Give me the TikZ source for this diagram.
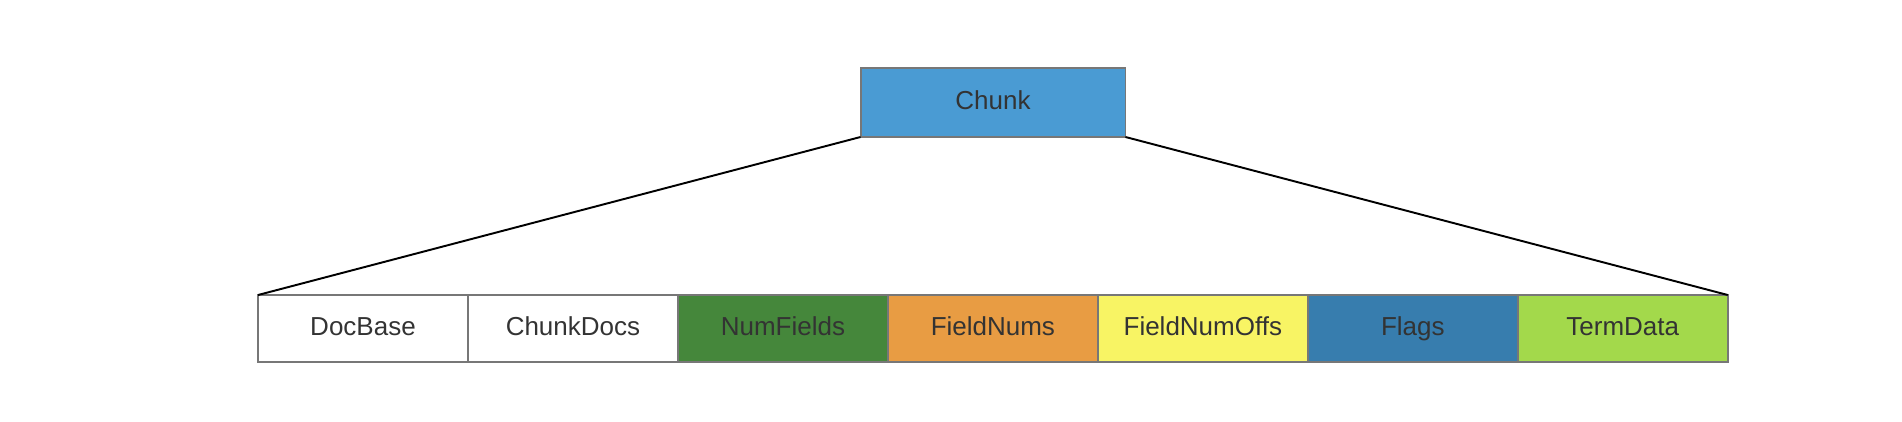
\documentclass[tikz,border=0pt]{standalone}
\usepackage{fontspec}
\setmainfont{Liberation Sans}
\usetikzlibrary{positioning}
\definecolor{chunkblue}{RGB}{74,155,211}
\definecolor{numgreen}{RGB}{69,135,59}
\definecolor{numorange}{RGB}{232,156,67}
\definecolor{offsyellow}{RGB}{248,244,100}
\definecolor{flagblue}{RGB}{55,125,174}
\definecolor{termgreen}{RGB}{163,217,75}
\definecolor{boxgray}{RGB}{119,119,119}
\definecolor{textgray}{RGB}{51,51,51}
\begin{document}
\begin{tikzpicture}[x=0.02cm,y=-0.02cm,
		field/.style={draw=boxgray, line width=1.1pt, minimum width=4.2cm, minimum height=1.34cm,
			inner sep=0pt, outer sep=0pt, text=textgray, text height=1.6ex, text depth=0.1ex,
			font=\fontsize{14.8}{17}\selectfont}]
		\useasboundingbox (0,0) rectangle (1902,422);

		%Chunk
		\node[field, fill=chunkblue, minimum width=5.3cm, minimum height=1.38cm] (chunk) at (993,102.5) {Chunk};

		%Fields
		\node[field] (docbase) at (363,328.5) {DocBase};
		\node[field, right=0pt of docbase] (chunkdocs) {ChunkDocs};
		\node[field, fill=numgreen, right=0pt of chunkdocs] (numfields) {NumFields};
		\node[field, fill=numorange, right=0pt of numfields] (fieldnums) {FieldNums};
		\node[field, fill=offsyellow, right=0pt of fieldnums] (fieldnumoffs) {FieldNumOffs};
		\node[field, fill=flagblue, right=0pt of fieldnumoffs] (flags) {Flags};
		\node[field, fill=termgreen, right=0pt of flags] (termdata) {TermData};

		\draw[line width=1.1pt] (chunk.south west) -- (docbase.north west);
		\draw[line width=1.1pt] (chunk.south east) -- (termdata.north east);

	\end{tikzpicture}
\end{document}
